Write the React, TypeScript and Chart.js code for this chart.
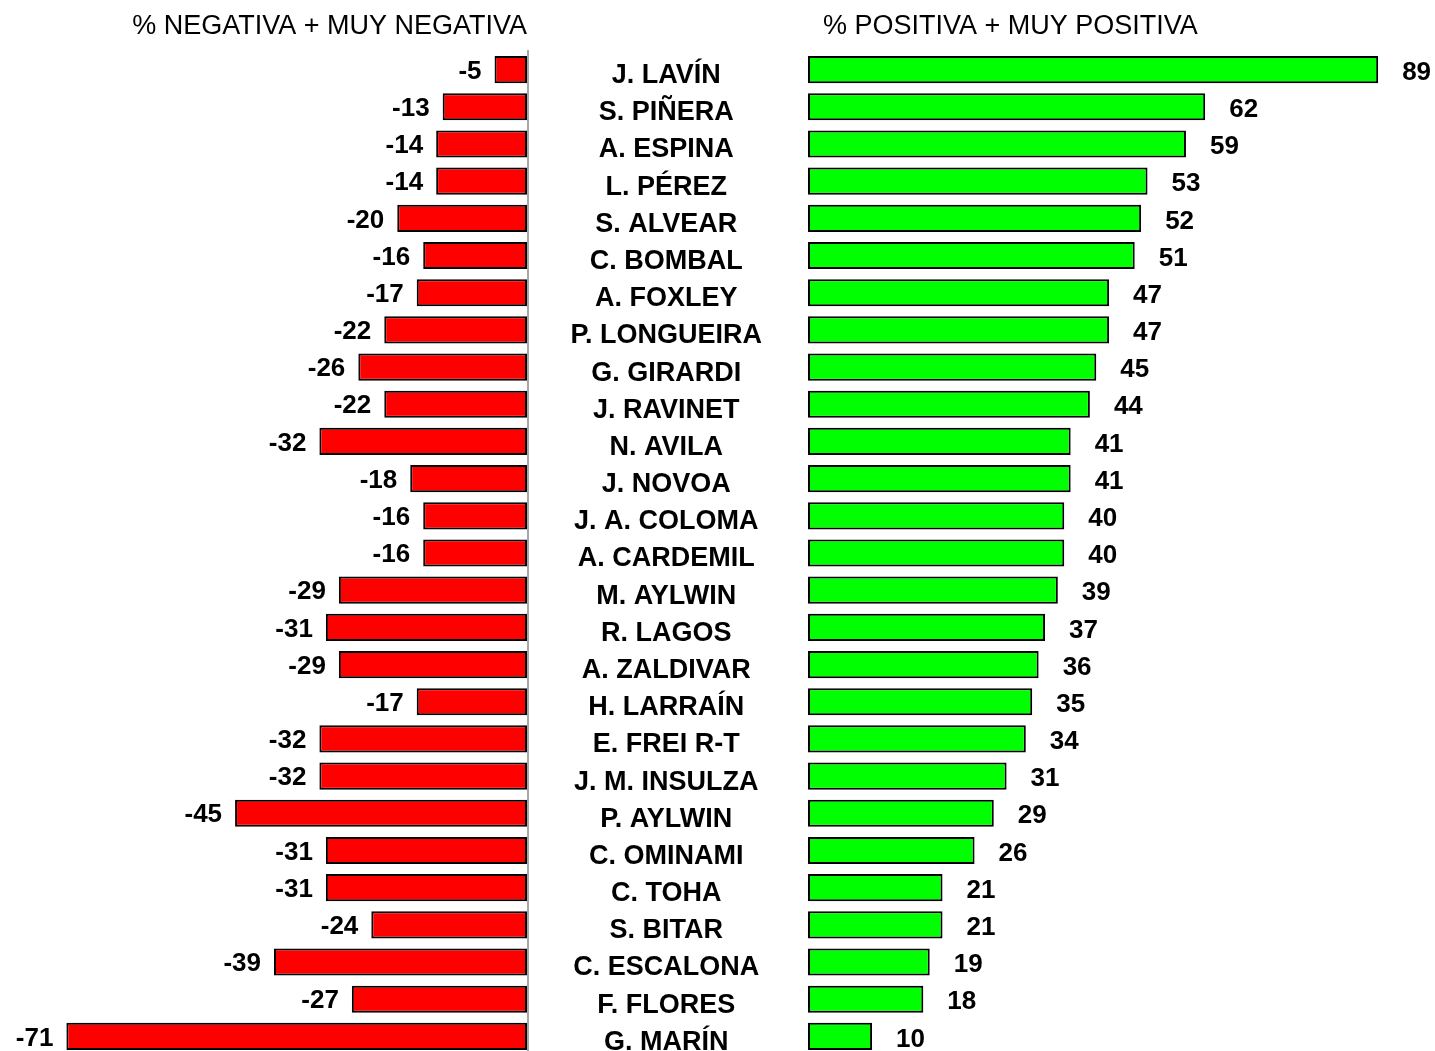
import React, { useEffect, useRef } from 'react';
import { Chart, registerables } from 'chart.js';

Chart.register(...registerables);

const names = [
  'J. LAVÍN', 'S. PIÑERA', 'A. ESPINA', 'L. PÉREZ', 'S. ALVEAR', 'C. BOMBAL', 'A. FOXLEY',
  'P. LONGUEIRA', 'G. GIRARDI', 'J. RAVINET', 'N. AVILA', 'J. NOVOA', 'J. A. COLOMA',
  'A. CARDEMIL', 'M. AYLWIN', 'R. LAGOS', 'A. ZALDIVAR', 'H. LARRAÍN', 'E. FREI R-T',
  'J. M. INSULZA', 'P. AYLWIN', 'C. OMINAMI', 'C. TOHA', 'S. BITAR', 'C. ESCALONA',
  'F. FLORES', 'G. MARÍN',
];

const negativeValues = [
  -5, -13, -14, -14, -20, -16, -17, -22, -26, -22, -32, -18, -16, -16, -29, -31, -29,
  -17, -32, -32, -45, -31, -31, -24, -39, -27, -71,
];

const positiveValues = [
  89, 62, 59, 53, 52, 51, 47, 47, 45, 44, 41, 41, 40, 40, 39, 37, 36, 35, 34, 31, 29,
  26, 21, 21, 19, 18, 10,
];

const leftTitle = '% NEGATIVA + MUY NEGATIVA';
const rightTitle = '% POSITIVA + MUY POSITIVA';

const negativeAxisRange = [-80, 0];
const positiveAxisRange = [0, 96];

const FONT = "'Liberation Sans', Arial, Helvetica, sans-serif";

function valueLabelPlugin(side: 'left' | 'right') {
  return {
    id: 'valueLabels' + side,
    afterDatasetsDraw(chart: any) {
      const ctx = chart.ctx;
      const meta = chart.getDatasetMeta(0);
      const data = chart.data.datasets[0].data as number[];
      ctx.save();
      ctx.font = `bold 26px ${FONT}`;
      ctx.fillStyle = '#000';
      ctx.textBaseline = 'middle';
      meta.data.forEach((bar: any, i: number) => {
        const { x, y } = bar.getProps(['x', 'y'], true);
        if (side === 'left') {
          ctx.textAlign = 'right';
          ctx.fillText(String(data[i]), x - 13, y + 2);
        } else {
          ctx.textAlign = 'left';
          ctx.fillText(String(data[i]), x + 24, y + 3);
        }
      });
      ctx.restore();
    },
  };
}

function panelTitlePlugin(text: string, side: 'left' | 'right') {
  return {
    id: 'panelTitle' + side,
    afterDraw(chart: any) {
      const { ctx, chartArea } = chart;
      ctx.save();
      ctx.font = `27px ${FONT}`;
      ctx.fillStyle = '#000';
      ctx.textBaseline = 'middle';
      if (side === 'left') {
        ctx.textAlign = 'right';
        ctx.fillText(text, chartArea.right, chartArea.top - 24);
      } else {
        ctx.textAlign = 'left';
        ctx.fillText(text, chartArea.left + 15, chartArea.top - 24);
      }
      ctx.restore();
    },
  };
}

const zeroLinePlugin = {
  id: 'zeroLine',
  afterDatasetsDraw(chart: any) {
    const { ctx, chartArea, scales } = chart;
    const x = scales.x.getPixelForValue(0) + 1;
    ctx.save();
    ctx.strokeStyle = '#8a8a8a';
    ctx.lineWidth = 1.5;
    ctx.beginPath();
    ctx.moveTo(x, chartArea.top - 1);
    ctx.lineTo(x, chartArea.bottom);
    ctx.stroke();
    ctx.restore();
  },
};

export default function App() {
  const leftRef = useRef<HTMLCanvasElement>(null);
  const rightRef = useRef<HTMLCanvasElement>(null);

  useEffect(() => {
    document.body.style.margin = '0';
    document.body.style.overflow = 'hidden';

    const left = new Chart(leftRef.current!, {
      type: 'bar',
      data: {
        labels: names,
        datasets: [
          {
            data: negativeValues,
            backgroundColor: '#FF0000',
            borderColor: '#000000',
            borderWidth: 2,
            borderSkipped: false,
            barPercentage: 0.73,
            categoryPercentage: 1,
          },
        ],
      },
      options: {
        indexAxis: 'y',
        animation: false,
        responsive: false,
        layout: { padding: { left: 8, right: 13, top: 51, bottom: 5 } },
        plugins: { legend: { display: false }, tooltip: { enabled: false }, title: { display: false } },
        scales: {
          x: { display: false, min: negativeAxisRange[0], max: negativeAxisRange[1] },
          y: { display: false },
        },
      },
      plugins: [zeroLinePlugin, valueLabelPlugin('left'), panelTitlePlugin(leftTitle, 'left')],
    } as any);

    const right = new Chart(rightRef.current!, {
      type: 'bar',
      data: {
        labels: names,
        datasets: [
          {
            data: positiveValues,
            backgroundColor: '#00FF00',
            borderColor: '#000000',
            borderWidth: 2,
            borderSkipped: false,
            barPercentage: 0.73,
            categoryPercentage: 1,
          },
        ],
      },
      options: {
        indexAxis: 'y',
        animation: false,
        responsive: false,
        layout: { padding: { left: 0, right: 12, top: 51, bottom: 5 } },
        plugins: { legend: { display: false }, tooltip: { enabled: false }, title: { display: false } },
        scales: {
          x: { display: false, min: positiveAxisRange[0], max: positiveAxisRange[1] },
          y: {
            display: true,
            position: 'left',
            grid: { display: false, drawTicks: false },
            border: { display: false },
            ticks: {
              autoSkip: false,
              color: '#000',
              crossAlign: 'center',
              padding: 46,
              labelOffset: 6,
              font: { family: FONT, size: 27, weight: 'bold' },
            },
            afterFit: (scale: any) => {
              scale.width = 268;
              scale.paddingTop = 0;
              scale.paddingBottom = 0;
            },
          },
        },
      },
      plugins: [valueLabelPlugin('right'), panelTitlePlugin(rightTitle, 'right')],
    } as any);

    return () => {
      left.destroy();
      right.destroy();
    };
  }, []);

  return (
    <div style={{ position: 'relative', width: 1435, height: 1051, overflow: 'hidden', background: '#fff' }}>
      <canvas ref={leftRef} width={540} height={1060} style={{ position: 'absolute', left: 0, top: 0 }} />
      <canvas ref={rightRef} width={895} height={1060} style={{ position: 'absolute', left: 540, top: 0 }} />
    </div>
  );
}
